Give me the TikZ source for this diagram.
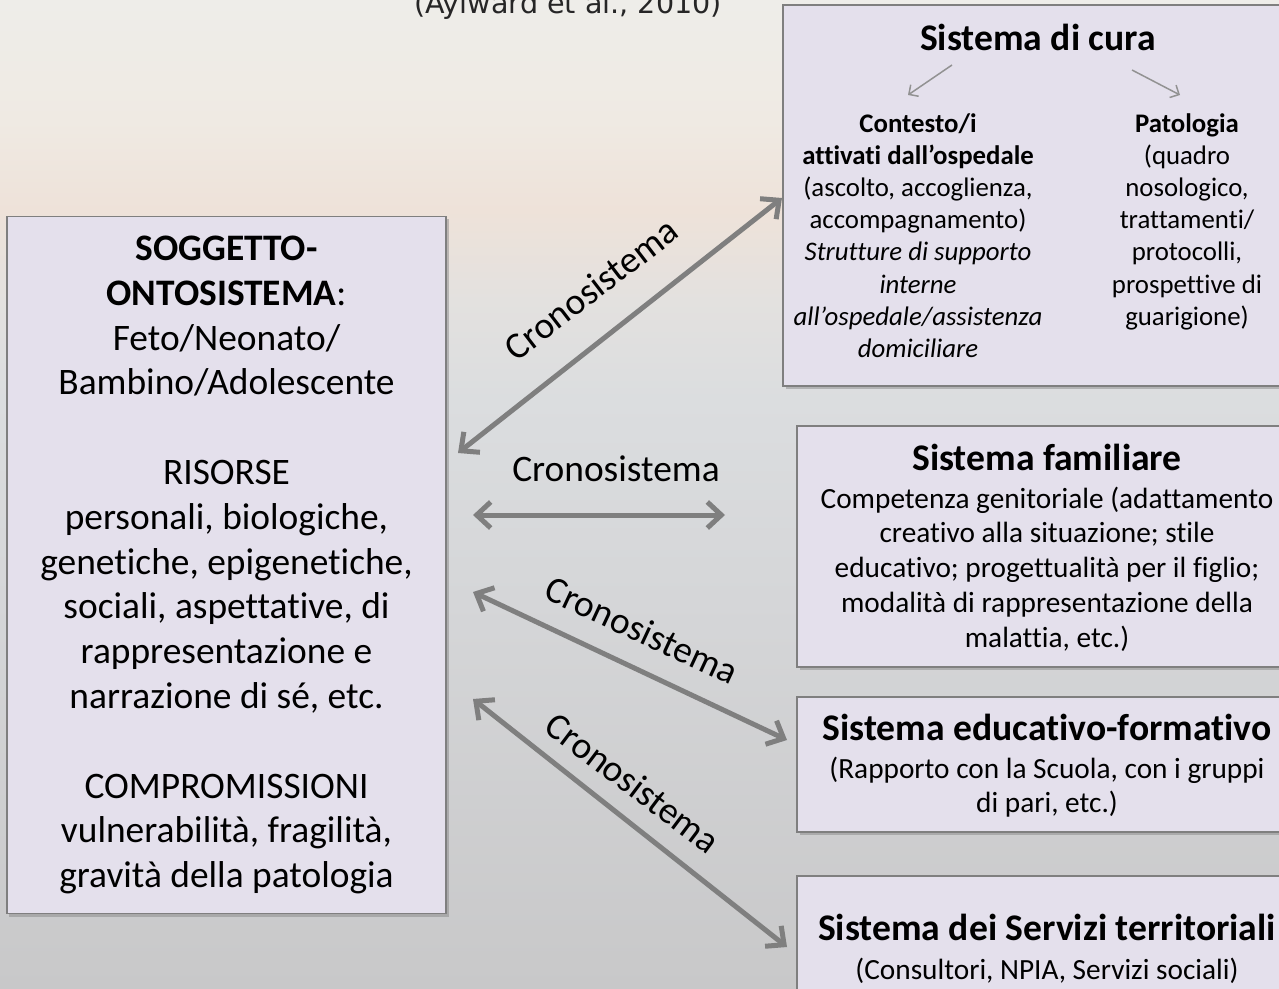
\documentclass[tikz,border=0pt]{standalone}
\usepackage{fontspec}
\setmainfont{Carlito}[Ligatures={TeX,NoCommon}]
\newfontfamily\citefont{DejaVu Sans}
\usetikzlibrary{arrows.meta,shadows}

\definecolor{boxfill}{HTML}{E4E0EC}
\definecolor{boxline}{HTML}{7F7F7F}
\definecolor{arrowgray}{HTML}{7F7F7F}
\definecolor{bgtop}{HTML}{EEEDE9}
\definecolor{bgpale}{HTML}{EFEAE3}
\definecolor{bgpeach}{HTML}{EEE2D9}
\definecolor{bgmist}{HTML}{E3E1DF}
\definecolor{bgsea}{HTML}{DBDDDF}
\definecolor{bgmid}{HTML}{D5D6D8}
\definecolor{bglow}{HTML}{C8C8C9}

% sky and sea behind the boxes
\pgfdeclareverticalshading{seabg}{100bp}{color(0bp)=(bglow); color(25bp)=(bglow);
  color(44.7bp)=(bgmid); color(54.8bp)=(bgsea); color(59.8bp)=(bgmist);
  color(64.4bp)=(bgpeach); color(68.9bp)=(bgpale); color(75bp)=(bgtop); color(100bp)=(bgtop)}

\begin{document}
\begin{tikzpicture}[x=1bp,y=-1bp,
	sysbox/.style={draw=boxline,line width=1.5bp,fill=boxfill,inner sep=0,outer sep=0,
		drop shadow={shadow xshift=2.5bp,shadow yshift=-3bp,opacity=0.45}},
	bigtxt/.style={font=\fontsize{37.4bp}{44.8bp}\selectfont,inner sep=0},
	headtxt/.style={font=\fontsize{37.6bp}{44bp}\selectfont\bfseries,inner sep=0},
	curatxt/.style={font=\fontsize{26.8bp}{32.2bp}\selectfont,align=flush center,inner sep=0},
	bodytxt/.style={font=\fontsize{29.3bp}{34.8bp}\selectfont,align=flush center,inner sep=0},
	bigarrow/.style={draw=arrowgray,line width=5bp,
		{Straight Barb[length=14bp,width=26bp]}-{Straight Barb[length=14bp,width=26bp]}},
	thinarrow/.style={draw=arrowgray!85,line width=1.5bp,-{Straight Barb[length=7bp,width=14bp]}}]
	\useasboundingbox (0,0) rectangle (1279,989);
	\clip (0,0) rectangle (1279,989);
	\shade[shading=seabg] (0,0) rectangle (1279,989);

	\node[font=\citefont\fontsize{28.6bp}{34bp}\selectfont,text=black!85,anchor=base,inner sep=0] (cite) at (568,13) {(Aylward et al., 2010)};

	% the child
	\node[sysbox,bigtxt,align=center,minimum width=439bp,minimum height=697bp] (sogg) at (226.5,565)
		{\textbf{SOGGETTO-}\\\textbf{ONTOSISTEMA}:\\Feto/Neonato/\\Bambino/Adolescente\\[44.8bp]RISORSE\\personali, biologiche,\\genetiche, epigenetiche,\\sociali, aspettative, di\\rappresentazione e\\narrazione di sé, etc.\\[44.8bp]COMPROMISSIONI\\vulnerabilità, fragilità,\\gravità della patologia};

	% the systems around
	\node[sysbox,minimum width=510bp,minimum height=381bp] (cura) at (1038,195.5) {};
	\node[sysbox,minimum width=500bp,minimum height=241bp] (fam) at (1047,546.5) {};
	\node[sysbox,minimum width=500bp,minimum height=135bp] (edu) at (1047,764.5) {};
	\node[sysbox,minimum width=500bp,minimum height=184bp] (serv) at (1047,968) {};

	\node[headtxt,anchor=base] (curahead) at (1038,50) {Sistema di cura};
	\node[curatxt,anchor=base,text width=270bp] (contesto) at (918,132)
		{\textbf{Contesto/i}\\\textbf{attivati dall'ospedale}\\(ascolto, accoglienza,\\accompagnamento)\\\textit{Strutture di supporto}\\\textit{interne}\\\textit{all'ospedale/assistenza}\\\textit{domiciliare}};
	\node[curatxt,anchor=base,text width=190bp] (patologia) at (1187,132)
		{\textbf{Patologia}\\(quadro\\nosologico,\\trattamenti/\\protocolli,\\prospettive di\\guarigione)};
	\coordinate (k1) at (952,65);
	\coordinate (k2) at (908,95);
	\coordinate (k3) at (1132,70);
	\coordinate (k4) at (1180,95);
	\draw[thinarrow] (k1) -- (k2);
	\draw[thinarrow] (k3) -- (k4);

	\node[headtxt,anchor=base] (famhead) at (1047,470) {Sistema familiare};
	\node[bodytxt,anchor=base,text width=490bp] (fambody) at (1047,508)
		{Competenza genitoriale (adattamento\\creativo alla situazione; stile\\educativo; progettualità per il figlio;\\modalità di rappresentazione della\\malattia, etc.)};

	\node[headtxt,anchor=base] (eduhead) at (1047,740) {Sistema educativo-formativo};
	\node[bodytxt,anchor=base,text width=490bp] (edubody) at (1047,778)
		{(Rapporto con la Scuola, con i gruppi\\di pari, etc.)};

	\node[headtxt,anchor=base] (servhead) at (1047,940) {Sistema dei Servizi territoriali};
	\node[bodytxt,anchor=base,text width=490bp] (servbody) at (1047,979)
		{(Consultori, NPIA, Servizi sociali)};

	% chronosystem links
	\coordinate (a1) at (458,453);
	\coordinate (b1) at (782,198);
	\coordinate (a2) at (473,515);
	\coordinate (b2) at (725,515);
	\coordinate (a3) at (473,592);
	\coordinate (b3) at (787,740);
	\coordinate (a4) at (473,699);
	\coordinate (b4) at (787,947);
	\draw[bigarrow] (a1) -- (b1);
	\draw[bigarrow] (a2) -- (b2);
	\draw[bigarrow] (a3) -- (b3);
	\draw[bigarrow] (a4) -- (b4);
	\node[bigtxt,rotate=37.5] (crono1) at (591,289) {Cronosistema};
	\node[bigtxt] (crono2) at (616,469) {Cronosistema};
	\node[bigtxt,rotate=-25] (crono3) at (642,630) {Cronosistema};
	\node[bigtxt,rotate=-37] (crono4) at (633,783) {Cronosistema};
\end{tikzpicture}
\end{document}
